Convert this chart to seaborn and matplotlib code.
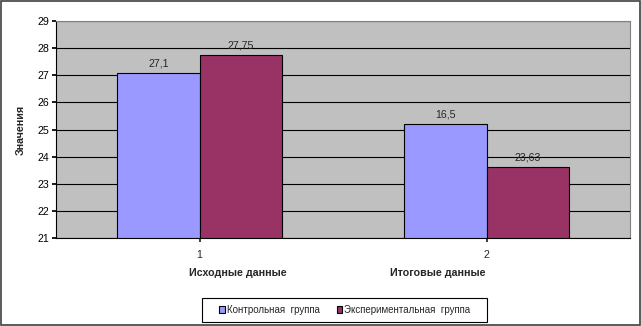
import pandas as pd
import matplotlib
matplotlib.use('Agg')
import matplotlib.pyplot as plt
import matplotlib.transforms as mtransforms
import seaborn as sns

# Chart data
categories = ['1', '2']
group_names = ['Исходные данные', 'Итоговые данные']
series = ['Контрольная  группа', 'Экспериментальная  группа']
control_values = [27.1, 25.2]
experiment_values = [27.75, 23.63]
control_labels = ['27,1', '16,5']
experiment_labels = ['27,75', '23,63']
colors = ['#9999FF', '#993366']

sns.set_theme(style="white")
plt.rcParams['font.family'] = ['Liberation Sans', 'DejaVu Sans']

df = pd.DataFrame({
    'cat': categories * 2,
    'series': [series[0]] * 2 + [series[1]] * 2,
    'value': control_values + experiment_values,
})

W, H = 641, 326
fig = plt.figure(figsize=(W / 100, H / 100), dpi=100)
ax = fig.add_axes([56 / W, 1 - 238 / H, 574 / W, 217 / H])
ax.set_facecolor('#C0C0C0')

sns.barplot(data=df, x='cat', y='value', hue='series', palette=colors,
            saturation=1, width=0.572, edgecolor='black', linewidth=0.8,
            ax=ax, legend=True)

ax.set_ylim(21, 29)
ax.set_yticks(range(21, 30))
ax.yaxis.grid(True, color='black', linewidth=0.8)
ax.set_axisbelow(True)
ax.tick_params(axis='y', labelsize=7.7, length=3, left=True, colors='black', pad=2)
ax.tick_params(axis='x', labelsize=7.7, length=3, bottom=True, pad=6)
for s in ax.spines.values():
    s.set_color('#808080')
    s.set_linewidth(0.8)
ax.spines['left'].set_color('black')
ax.spines['bottom'].set_color('black')

ax.set_xlabel('')
ax.set_ylabel('Значения', fontsize=7.7, fontweight='bold', labelpad=8)

# value labels
all_labels = [control_labels, experiment_labels]
for container, labels in zip(ax.containers, all_labels):
    ax.bar_label(container, labels=labels, fontsize=7.7, padding=3)

# group names below tick labels
trans = mtransforms.blended_transform_factory(ax.transData, ax.transAxes)
ax.text(0.134, -0.16, group_names[0], transform=trans, ha='center', va='center',
        fontsize=7.7, fontweight='bold')
ax.text(0.83, -0.16, group_names[1], transform=trans, ha='center', va='center',
        fontsize=7.7, fontweight='bold')

# legend (frameless) with its own box
handles, lbls = ax.get_legend_handles_labels()
ax.legend_.remove()
fig.legend(handles, lbls, loc='center', bbox_to_anchor=(345 / W, 1 - 310 / H),
           ncol=2, fontsize=7.0, frameon=False,
           handlelength=0.6, handleheight=0.6, handletextpad=0.2,
           columnspacing=1.7, borderpad=0.2)
fig.patches.append(plt.Rectangle((202 / W, 1 - 322 / H), 285 / W, 24 / H,
                                 transform=fig.transFigure, fill=False,
                                 edgecolor='black', linewidth=0.8))

# outer border
fig.patches.append(plt.Rectangle((0.001, 0.002), 0.997, 0.995, transform=fig.transFigure,
                                 fill=False, edgecolor='#404040', linewidth=1.2))

fig.savefig('out.png', dpi=100, facecolor='white')
